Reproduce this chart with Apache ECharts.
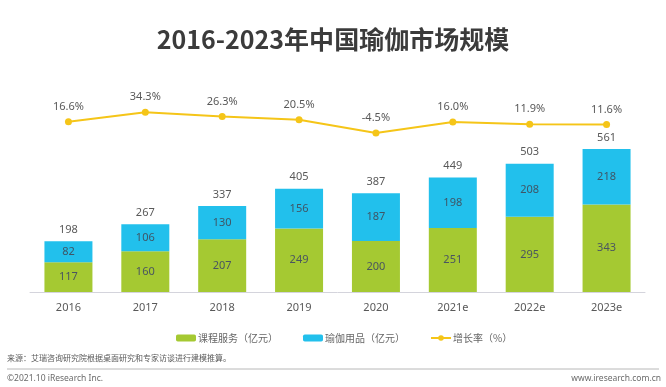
<!DOCTYPE html>
<html>
<head>
<meta charset="utf-8">
<script src="https://cdn.jsdelivr.net/npm/echarts@6/dist/echarts.min.js"></script>
<style>html,body{margin:0;padding:0;background:#fff;}#c{width:666px;height:387px;}</style>
</head>
<body>
<div id="c"></div>
<script>
const categories = ['2016','2017','2018','2019','2020','2021e','2022e','2023e'];
const courseValues = [117,160,207,249,200,251,295,343];
const goodsValues = [82,106,130,156,187,198,208,218];
const totalValues = [198,267,337,405,387,449,503,561];
const growthValues = [16.6,34.3,26.3,20.5,-4.5,16.0,11.9,11.6];
const growthLabels = ['16.6%','34.3%','26.3%','20.5%','-4.5%','16.0%','11.9%','11.6%'];
const seriesNames = ['课程服务（亿元）','瑜伽用品（亿元）','增长率（%）'];

const FONT = "'Noto Sans','Noto Sans CJK SC',sans-serif";
const chart = echarts.init(document.getElementById('c'), null, {renderer:'canvas'});
chart.setOption({
  animation:false,
  backgroundColor:'#ffffff',
  textStyle:{fontFamily:FONT},
  title:{
    text:'2016-2023年中国瑜伽市场规模',
    left:'center', top:22,
    textStyle:{fontSize:25,fontWeight:'bold',color:'#3b3b3b',fontFamily:"'Noto Sans CJK SC',sans-serif"}
  },
  legend:{
    data:[seriesNames[0],seriesNames[1],seriesNames[2]],
    left:171, top:328,
    itemWidth:20, itemHeight:7, itemGap:25,
    textStyle:{fontSize:10,color:'#666666',fontFamily:"'Noto Sans CJK SC',sans-serif",padding:[0,0,0,-3]}
  },
  grid:{left:30,right:21,top:88,bottom:95,containLabel:false},
  xAxis:{
    type:'category', data:categories,
    axisLine:{lineStyle:{color:'#d4d4dc',width:1}},
    axisTick:{show:false},
    axisLabel:{fontSize:11,color:'#595959',margin:10}
  },
  yAxis:[
    {type:'value',min:0,max:800,show:false,splitLine:{show:false}},
    {type:'value',min:-303,max:80,show:false,splitLine:{show:false}}
  ],
  series:[
    {
      name:seriesNames[0], type:'bar', stack:'s', data:courseValues, barWidth:48,
      itemStyle:{color:'#a5c932'},
      label:{show:true,position:'inside',fontSize:11,color:'#4a5560'}
    },
    {
      name:seriesNames[1], type:'bar', stack:'s', data:goodsValues, barWidth:48,
      itemStyle:{color:'#22c0ec'},
      label:{show:true,position:'inside',fontSize:11,color:'#3f5566'}
    },
    {
      name:'合计', type:'bar', data:totalValues, barWidth:48, barGap:'-100%', z:1,
      itemStyle:{color:'rgba(0,0,0,0)'},
      label:{show:true,position:'top',fontSize:11,color:'#595959',distance:6},
      silent:true
    },
    {
      name:seriesNames[2], type:'line', yAxisIndex:1, data:growthValues,
      symbol:'circle', symbolSize:7,
      lineStyle:{color:'#f5c518',width:2},
      itemStyle:{color:'#f5c518'},
      label:{show:true,position:'top',fontSize:11,color:'#595959',distance:6,
        formatter:p=>growthLabels[p.dataIndex]}
    }
  ],
  graphic:[
    {type:'text',left:7,top:354,style:{text:'来源：艾瑞咨询研究院根据桌面研究和专家访谈进行建模推算。',fontSize:8,fill:'#595959',fontFamily:"'Noto Sans CJK SC',sans-serif"}},
    {type:'line',shape:{x1:7,y1:369,x2:659,y2:369},style:{stroke:'#b8b8b8',lineWidth:1}},
    {type:'text',left:7,top:374,style:{text:'©2021.10 iResearch Inc.',fontSize:8.5,fill:'#6a6a6a',fontFamily:FONT}},
    {type:'text',right:5,top:374,style:{text:'www.iresearch.com.cn',fontSize:8.5,fill:'#6a6a6a',fontFamily:FONT}}
  ]
});
</script>
</body>
</html>
